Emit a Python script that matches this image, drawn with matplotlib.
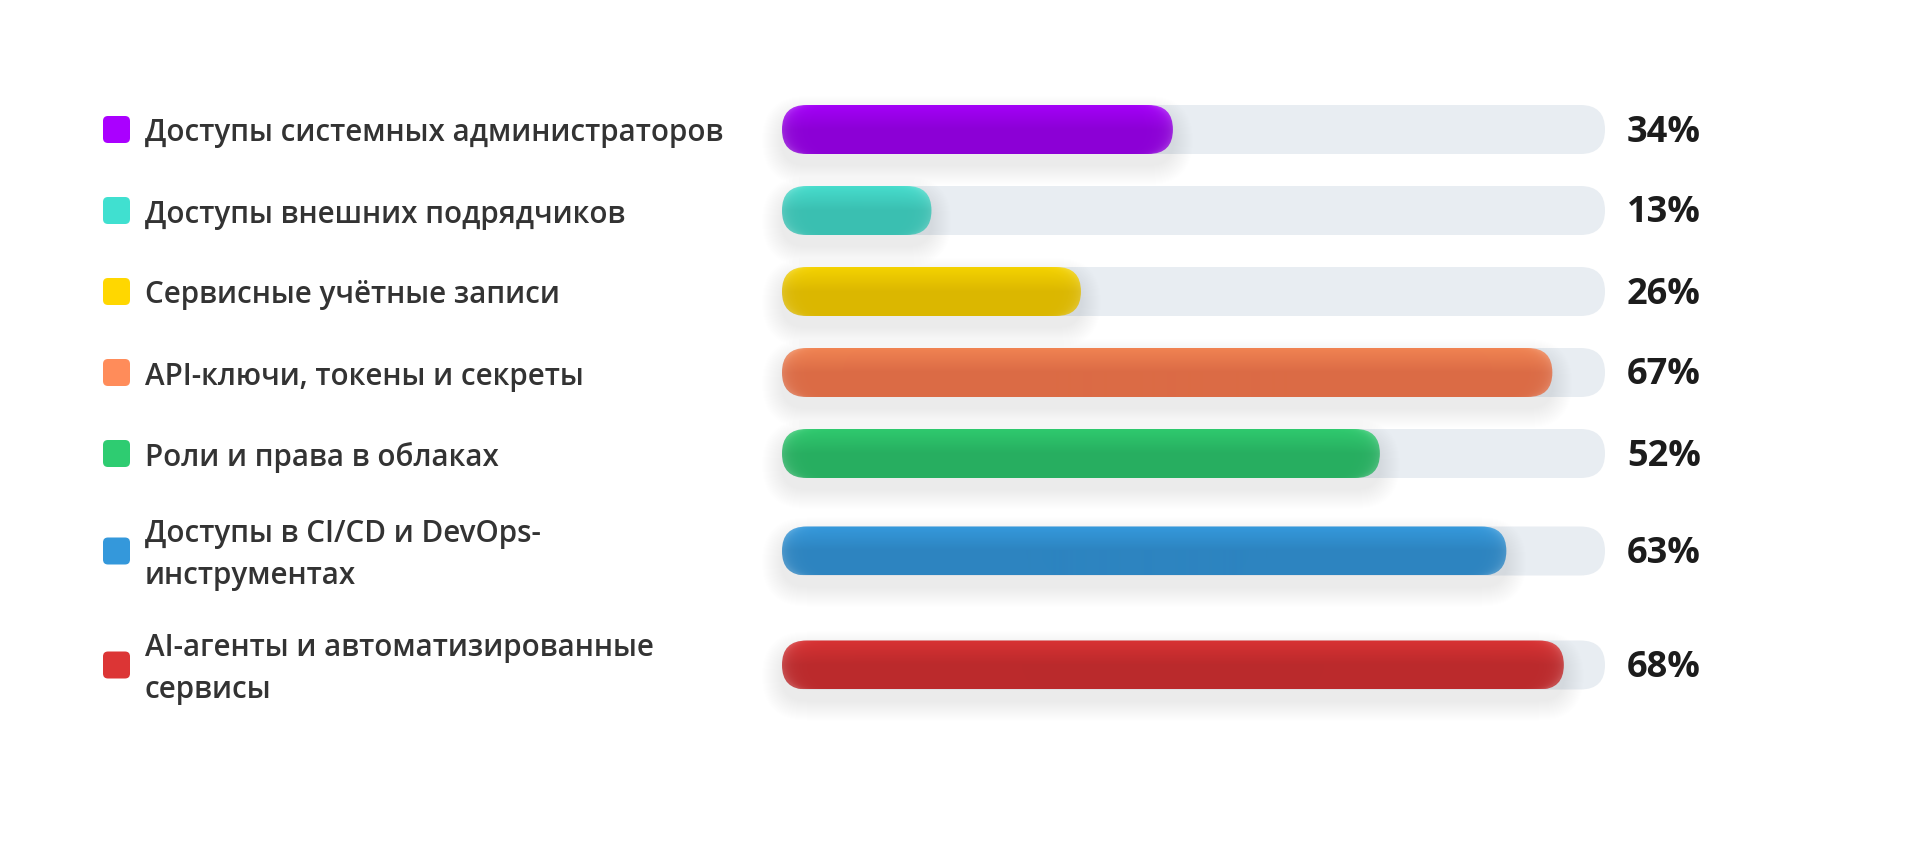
import numpy as np
import matplotlib
matplotlib.use("agg")
import matplotlib.pyplot as plt
from matplotlib.patches import FancyBboxPatch
from matplotlib.colors import to_rgb

# данные
categories = [
    "Доступы системных администраторов",
    "Доступы внешних подрядчиков",
    "Сервисные учётные записи",
    "API-ключи, токены и секреты",
    "Роли и права в облаках",
    "Доступы в CI/CD и DevOps-\nинструментах",
    "AI-агенты и автоматизированные\nсервисы",
]
values = [34, 13, 26, 67, 52, 63, 68]

# стили
marker_colors = ["#aa00ff", "#40e0d0", "#ffd700", "#ff8c5a", "#2ecc71", "#3498db", "#dc3535"]
bar_top = ["#a300f7", "#46dccc", "#f4d200", "#f08352", "#2fc96e", "#3599dc", "#d83233"]
bar_bottom = ["#8c00d6", "#3abfb1", "#dbb700", "#db6b45", "#27ae60", "#2d84c0", "#bb2a2c"]
track_color = "#e8edf2"
label_color = "#333333"
value_color = "#1c1c1c"

plt.rcParams["font.family"] = ["Open Sans", "DejaVu Sans"]

W, H = 1917, 865
fig = plt.figure(figsize=(W / 100, H / 100), dpi=100)
fig.patch.set_facecolor("white")

# раскладка строк (в пикселях)
bar_h = 49
line_h = 41
gap = 32
first_center = 129.5
rows_h = [max(bar_h, (c.count("\n") + 1) * line_h) for c in categories]
centers = []
y = first_center - rows_h[0] / 2
for rh in rows_h:
    centers.append(y + rh / 2)
    y += rh + gap

track_x0, track_x1 = 782, 1605
xmax = max(values) / 0.95

# слой для подписей
lay = fig.add_axes([0, 0, 1, 1])
lay.set_xlim(0, W)
lay.set_ylim(H, 0)
lay.axis("off")

# оси для полос
ax = fig.add_axes([track_x0 / W, 0, (track_x1 - track_x0) / W, 1])
ax.set_xlim(0, xmax)
ax.set_ylim(H, 0)
ax.axis("off")
ppx = (track_x1 - track_x0) / xmax  # пикселей на 1%


def pill(x0, x1, yc, h, r, **kw):
    return FancyBboxPatch((x0, yc - h / 2), x1 - x0, h,
                          boxstyle=f"round,pad=0,rounding_size={r / ppx}",
                          mutation_aspect=ppx, **kw)


def bar_image(c_top, c_bot, w_px, h_px):
    t = np.linspace(0, 1, h_px)[:, None]
    top, bot = np.array(to_rgb(c_top)), np.array(to_rgb(c_bot))
    k = np.clip(t / 0.5, 0, 1)
    col = top[None, None, :] * (1 - k[..., None]) + bot[None, None, :] * k[..., None]
    col = np.repeat(col, w_px, axis=1)
    # светлый ободок у торцов
    r = h_px / 2
    xs = np.arange(w_px)[None, :] + 0.5
    ys = np.arange(h_px)[:, None] + 0.5
    xl = r - np.sqrt(np.clip(r ** 2 - (ys - r) ** 2, 0, None))
    dx = np.minimum(xs - xl, (w_px - xl) - xs)
    glow = 0.16 * np.exp(-np.clip(dx, 0, None) / 7.0)
    col = col + (1 - col) * glow[..., None]
    return np.clip(col, 0, 1)


for i, (cat, val) in enumerate(zip(categories, values)):
    yc = centers[i]

    # маркер и подпись
    sq = 27
    lay.add_patch(FancyBboxPatch((103, yc - sq / 2), sq, sq,
                                 boxstyle="round,pad=0,rounding_size=5",
                                 fc=marker_colors[i], ec="none"))
    lay.text(145, yc + 4, cat, fontsize=21.3, fontweight="semibold", color=label_color,
             va="center", ha="left", linespacing=1.55)

    # дорожка
    ax.add_patch(pill(0, xmax, yc, bar_h, bar_h / 2, fc=track_color, ec="none", zorder=1))

    # тень
    n = 20
    for j in range(n):
        grow = 20 * (j + 1) / n
        ax.add_patch(pill(-grow / ppx, val + grow / ppx, yc + 11, bar_h + 2 * grow,
                          bar_h / 2 + grow, fc="#262d3a", ec="none",
                          alpha=0.0045, zorder=2, clip_on=False))

    # полоса с градиентом
    p = pill(0, val, yc, bar_h, bar_h / 2, fc="none", ec="none", zorder=3)
    ax.add_patch(p)
    img = bar_image(bar_top[i], bar_bottom[i], int(round(val * ppx)), bar_h)
    im = ax.imshow(img, extent=(0, val, yc + bar_h / 2, yc - bar_h / 2),
                   origin="upper", aspect="auto", zorder=3, interpolation="bilinear")
    im.set_clip_path(p)

    # значение
    lay.text(1627, yc + 3, f"{val}%", fontsize=26, fontweight="bold",
             color=value_color, va="center", ha="left")

ax.set_xlim(0, xmax)
ax.set_ylim(H, 0)

fig.savefig("out.png", dpi=100, facecolor="white")
